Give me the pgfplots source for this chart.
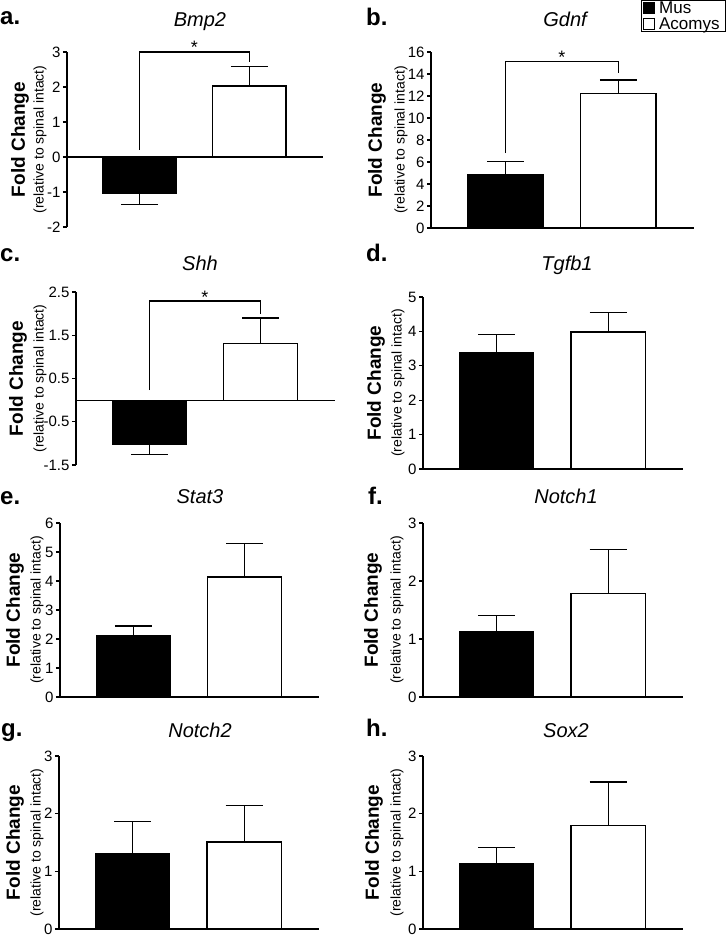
\documentclass[border=0pt]{standalone}
\usepackage{fontspec}
\setmainfont{Liberation Sans}
\usepackage{pgfplots}
\pgfplotsset{compat=1.18}

\pgfplotsset{
  panel/.style={
    scale only axis,
    anchor=south west,
    axis y line*=left,
    axis x line*=middle,
    xtick=\empty,
    xmin=0.34, xmax=2.67,
    tick align=outside,
    major tick length=4pt,
    axis line style={line width=1.2pt, black},
    every tick/.style={line width=1.2pt, black},
    ticklabel style={font=\fontsize{15}{15}\selectfont},
    yticklabel style={xshift=1pt},
    /pgf/number format/assume math mode=true,
    ybar, bar width=0.667, bar shift=0pt,
    clip=false,
  },
  mus/.style={fill=black, draw=black, line width=1.2pt},
  aco/.style={fill=white, draw=black, line width=1.2pt},
  eb/.style={error bars/.cd, y dir=#1, y explicit,
    error bar style={line width=1.2pt, black},
    error mark options={line width=1.2pt, black, mark size=18.5pt, rotate=90}},
}
\newcommand{\ttl}{\fontsize{20}{20}\selectfont\itshape}
\newcommand{\plab}{\fontsize{24}{24}\selectfont\bfseries}
\newcommand{\fc}{\fontsize{19}{19}\selectfont\bfseries}
\newcommand{\rel}{\fontsize{14}{14}\selectfont}
\newcommand{\st}{\fontsize{18}{18}\selectfont}

\begin{document}
\begin{tikzpicture}
\useasboundingbox (0pt,0pt) rectangle (727pt,937pt);

% ---------- a. Bmp2
\begin{axis}[panel, at={(67pt,710pt)}, width=256pt, height=175pt,
  ymin=-2, ymax=3, ytick={-2,-1,0,1,2,3}]
\addplot[mus, eb=minus] coordinates {(1,-1.05) +- (0,0.30)};
\addplot[aco, eb=plus] coordinates {(2,2.03) +- (0,0.55)};
\draw[line width=1.2pt] (axis cs:1,0.2) |- (axis cs:2,3.0) -- (axis cs:2,2.71);
\node[anchor=base, font=\st, yshift=-2pt] at (axis cs:1.5,3.0) {*};
\end{axis}

% ---------- b. Gdnf
\begin{axis}[panel, at={(431pt,709pt)}, width=263pt, height=176pt,
  ymin=0, ymax=16, ytick={0,2,...,16},
  legend style={at={(1.122,1.295)}, anchor=north east, draw=black, line width=1pt,
    font=\fontsize{17}{17}\selectfont, row sep=3pt, inner xsep=2pt, inner ysep=1pt,
    nodes={inner xsep=4pt, inner ysep=0pt}},
  legend image code/.code={\draw[#1, line width=0.8pt] (2pt,-5.5pt) rectangle (13pt,5.5pt);},
  legend cell align=left]
\addplot[mus, eb=plus] coordinates {(1,4.85) +- (0,1.2)};
\addlegendentry{Mus}
\addplot[aco, eb=plus] coordinates {(2,12.2) +- (0,1.25)};
\addlegendentry{Acomys}
\draw[line width=1.2pt] (axis cs:1,6.8) |- (axis cs:2,15.1) -- (axis cs:2,14.1);
\node[anchor=base, font=\st, yshift=-2pt] at (axis cs:1.5,15.1) {*};
\end{axis}

% ---------- c. Shh
\begin{axis}[panel, at={(76pt,472pt)}, width=259pt, height=173pt,
  ymin=-1.5, ymax=2.5, ytick={-1.5,-0.5,0.5,1.5,2.5}]
\addplot[mus, eb=minus] coordinates {(1,-1.02) +- (0,0.23)};
\addplot[aco, eb=plus] coordinates {(2,1.3) +- (0,0.6)};
\draw[line width=1.2pt] (axis cs:1,0.23) |- (axis cs:2,2.29) -- (axis cs:2,2.0);
\node[anchor=base, font=\st, yshift=-2pt] at (axis cs:1.5,2.29) {*};
\end{axis}

% ---------- d. Tgfb1
\begin{axis}[panel, at={(423pt,468pt)}, width=260pt, height=172pt,
  ymin=0, ymax=5, ytick={0,...,5}]
\addplot[mus, eb=plus] coordinates {(1,3.37) +- (0,0.55)};
\addplot[aco, eb=plus] coordinates {(2,3.98) +- (0,0.58)};
\end{axis}

% ---------- e. Stat3
\begin{axis}[panel, at={(60pt,240pt)}, width=259pt, height=174pt,
  ymin=0, ymax=6, ytick={0,...,6}]
\addplot[mus, eb=plus] coordinates {(1,2.1) +- (0,0.35)};
\addplot[aco, eb=plus] coordinates {(2,4.14) +- (0,1.16)};
\end{axis}

% ---------- f. Notch1
\begin{axis}[panel, at={(423pt,240pt)}, width=260pt, height=174pt,
  ymin=0, ymax=3, ytick={0,...,3}]
\addplot[mus, eb=plus] coordinates {(1,1.12) +- (0,0.29)};
\addplot[aco, eb=plus] coordinates {(2,1.78) +- (0,0.76)};
\end{axis}

% ---------- g. Notch2
\begin{axis}[panel, at={(59pt,8pt)}, width=260pt, height=173pt,
  ymin=0, ymax=3, ytick={0,...,3}]
\addplot[mus, eb=plus] coordinates {(1,1.3) +- (0,0.57)};
\addplot[aco, eb=plus] coordinates {(2,1.51) +- (0,0.63)};
\end{axis}

% ---------- h. Sox2
\begin{axis}[panel, at={(423pt,8pt)}, width=260pt, height=173pt,
  ymin=0, ymax=3, ytick={0,...,3}]
\addplot[mus, eb=plus] coordinates {(1,1.13) +- (0,0.28)};
\addplot[aco, eb=plus] coordinates {(2,1.79) +- (0,0.76)};
\end{axis}

% ---------- panel letters
\node[font=\plab, anchor=base west, inner sep=0pt] at (0pt,912pt) {a.};
\node[font=\plab, anchor=base west, inner sep=0pt] at (366pt,911pt) {b.};
\node[font=\plab, anchor=base west, inner sep=0pt] at (0pt,675pt) {c.};
\node[font=\plab, anchor=base west, inner sep=0pt] at (366pt,675pt) {d.};
\node[font=\plab, anchor=base west, inner sep=0pt] at (0pt,432pt) {e.};
\node[font=\plab, anchor=base west, inner sep=0pt] at (368pt,432pt) {f.};
\node[font=\plab, anchor=base west, inner sep=0pt] at (1pt,200pt) {g.};
\node[font=\plab, anchor=base west, inner sep=0pt] at (366pt,200pt) {h.};

% ---------- titles
\node[font=\ttl, anchor=base] at (200pt,910pt) {Bmp2};
\node[font=\ttl, anchor=base] at (565pt,910pt) {Gdnf};
\node[font=\ttl, anchor=base] at (200pt,666pt) {Shh};
\node[font=\ttl, anchor=base] at (567pt,666pt) {Tgfb1};
\node[font=\ttl, anchor=base] at (200pt,433pt) {Stat3};
\node[font=\ttl, anchor=base] at (566pt,433pt) {Notch1};
\node[font=\ttl, anchor=base] at (200pt,199pt) {Notch2};
\node[font=\ttl, anchor=base] at (566pt,199pt) {Sox2};

% ---------- y labels
\foreach \xa/\xb/\yc in {20/40/797.5, 377/401/797, 18/40/558.5, 376/398/554,
                          15/37/327, 373/397/327, 15/37/94.5, 374/397/94.5} {
  \node[font=\fc, rotate=90] at (\xa pt,\yc pt) {Fold Change};
  \node[font=\rel, rotate=90] at (\xb pt,\yc pt) {(relative to spinal intact)};
}
\end{tikzpicture}
\end{document}
